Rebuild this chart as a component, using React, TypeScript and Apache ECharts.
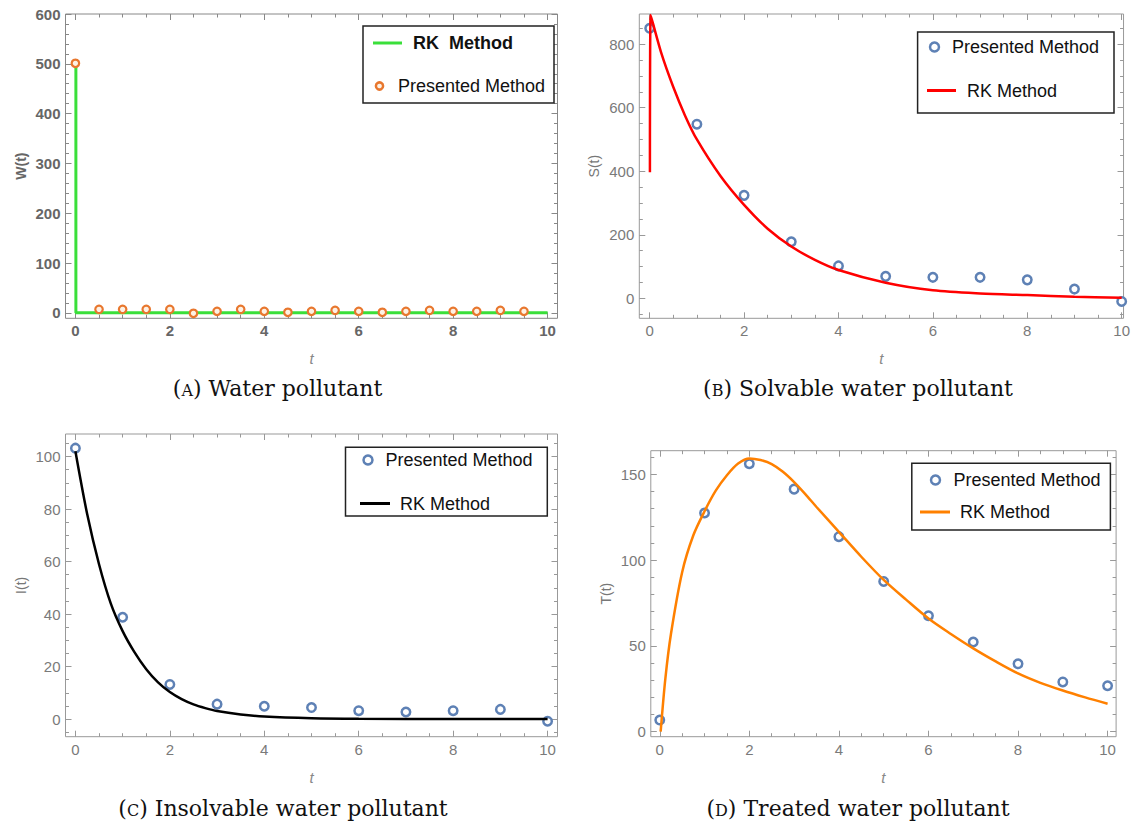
import React, { useEffect, useRef } from "react";
import * as echarts from "echarts";

// ---------------- data ----------------
// (A) Water pollutant W(t)
const tPresentedA = [0, 0.5, 1, 1.5, 2, 2.5, 3, 3.5, 4, 4.5, 5, 5.5, 6, 6.5, 7, 7.5, 8, 8.5, 9, 9.5];
const wPresented = [501, 7, 7, 7, 7, -1, 3, 7, 3, 1, 3, 5, 3, 1, 3, 5, 3, 3, 5, 3];
const tRkA = [0.01, 0.01, 10];
const wRk = [500, 0, 0];

// integer time points used by panels B, C, D
const tPresented = [0, 1, 2, 3, 4, 5, 6, 7, 8, 9, 10];

// (B) Solvable water pollutant S(t)
const sPresented = [850, 548, 324, 178, 102, 69, 66, 66, 58, 29, -10];
const tRkS = [0.005, 0.02, 0.25, 0.5, 0.75, 1, 1.5, 2, 2.5, 3, 3.5, 4, 5, 6, 7, 8, 9, 10];
const sRk = [397, 892, 770, 665, 575, 500, 385, 294, 219, 163, 121, 89, 49, 25, 15, 10, 5, 2];

// (C) Insolvable water pollutant I(t)
const iPresented = [103.2, 38.8, 13.2, 5.7, 4.9, 4.4, 3.2, 2.7, 3.2, 3.7, -0.8];
const tRkI = [0, 0.25, 0.5, 0.75, 1, 1.25, 1.5, 1.75, 2, 2.25, 2.5, 2.75, 3, 3.5, 4, 5, 6, 8, 10];
const iRk = [102, 78, 59, 44, 33.5, 25.5, 19, 14, 10.3, 7.6, 5.6, 4.2, 3.1, 1.8, 1.0, 0.35, 0.12, 0.02, 0];

// (D) Treated water pollutant T(t)
const trPresented = [6.8, 127.5, 156.2, 141.4, 113.7, 87.6, 67.6, 52.3, 39.6, 29, 26.8];
const tRkT = [0.02, 0.125, 0.25, 0.5, 0.75, 1, 1.25, 1.5, 1.75, 2, 2.25, 2.5, 2.75, 3, 3.25, 3.5, 4, 4.5, 5, 5.5, 6, 6.5, 7, 7.5, 8, 8.5, 9, 9.5, 10];
const trRk = [0, 31, 57, 93, 114.5, 128.5, 140.5, 149.5, 156.3, 159.3, 158.4, 156, 151.5, 145.5, 138.5, 131, 116.5, 102, 88.5, 77, 66, 57, 48.6, 41, 34, 28.5, 24, 20, 16.3];

// tick labels
const xMajor = [0, 2, 4, 6, 8, 10];
const xMinor = [0.5, 1, 1.5, 2.5, 3, 3.5, 4.5, 5, 5.5, 6.5, 7, 7.5, 8.5, 9, 9.5];
const yMajorA = [0, 100, 200, 300, 400, 500, 600];
const yMajorB = [0, 200, 400, 600, 800];
const yMajorC = [0, 20, 40, 60, 80, 100];
const yMajorD = [0, 50, 100, 150];

const seriesNames = ["RK Method", "Presented Method"];
const captions = [
  ["A", "Water pollutant"],
  ["B", "Solvable water pollutant"],
  ["C", "Insolvable water pollutant"],
  ["D", "Treated water pollutant"],
];
const yNames = ["W(t)", "S(t)", "I(t)", "T(t)"];

// ---------------- helpers ----------------
const SANS = "'Liberation Sans', Arial, Helvetica, sans-serif";
const SERIF = "'DejaVu Serif', 'Liberation Serif', serif";
const BLUE = "#5E81B5";

const zip = (xs: number[], ys: number[]) => xs.map((x, i) => [x, ys[i]]);

function minorsBetween(from: number, to: number, step: number, majorStep: number): number[] {
  const out: number[] = [];
  for (let v = from; v <= to + 1e-9; v += step) {
    const r = Math.round(v * 1000) / 1000;
    if (Math.abs(r / majorStep - Math.round(r / majorStep)) > 1e-6) out.push(r);
  }
  return out;
}

type Style = { frame: string; label: string; bold: boolean; yName: string };

function axesFor(
  g: number,
  isX: boolean,
  min: number,
  max: number,
  major: number[],
  minor: number[],
  st: Style
) {
  const base = {
    type: "value",
    gridIndex: g,
    min,
    max,
    axisLine: { show: false, onZero: false },
    splitLine: { show: false },
  };
  const tick = (vals: number[], len: number) => ({
    show: true,
    inside: true,
    length: len,
    customValues: vals,
    lineStyle: { color: st.frame, width: 1 },
  });
  const main = isX ? "bottom" : "left";
  const opp = isX ? "top" : "right";
  return [
    {
      ...base,
      position: main,
      axisTick: tick(major, 6),
      axisLabel: {
        show: true,
        customValues: major,
        margin: 5,
        color: st.label,
        fontSize: 15,
        fontFamily: SANS,
        fontWeight: st.bold ? "bold" : "normal",
      },
      name: isX ? "t" : st.yName,
      nameLocation: "middle",
      nameGap: isX ? 33 : 38,
      nameTextStyle: isX
        ? { fontStyle: "italic", fontSize: 15, color: "#888", fontFamily: SANS }
        : { fontSize: 14, color: st.bold ? "#666" : "#777", fontFamily: SANS, fontWeight: st.bold ? "bold" : "normal" },
    },
    { ...base, position: main, axisTick: tick(minor, 3.5), axisLabel: { show: false } },
    { ...base, position: opp, axisTick: tick(major, 6), axisLabel: { show: false } },
    { ...base, position: opp, axisTick: tick(minor, 3.5), axisLabel: { show: false } },
  ];
}

function legendBox(
  box: [number, number, number, number],
  items: { kind: "line" | "circle"; color: string; fill?: string; r?: number; x1: number; x2?: number; y: number; tx: number; text: string; bold?: boolean }[]
) {
  const children: any[] = [
    {
      type: "rect",
      shape: { x: box[0], y: box[1], width: box[2] - box[0], height: box[3] - box[1] },
      style: { fill: "#fff", stroke: "#222", lineWidth: 1.5 },
      z: 100,
    },
  ];
  items.forEach((it) => {
    if (it.kind === "line") {
      children.push({
        type: "line",
        shape: { x1: it.x1, y1: it.y, x2: it.x2, y2: it.y },
        style: { stroke: it.color, lineWidth: 3 },
        z: 101,
      });
    } else {
      children.push({
        type: "circle",
        shape: { cx: it.x1, cy: it.y, r: it.r ?? 4.5 },
        style: { fill: it.fill ?? "#fff", stroke: it.color, lineWidth: 2.5 },
        z: 101,
      });
    }
    children.push({
      type: "text",
      x: it.tx,
      y: it.y,
      style: {
        text: it.text,
        fill: "#111",
        fontSize: 18,
        fontFamily: SANS,
        fontWeight: it.bold ? "bold" : "normal",
        align: "left",
        verticalAlign: "middle",
      },
      z: 101,
    });
  });
  return children;
}

function caption(cx: number, cy: number, letter: string, text: string) {
  return {
    type: "text",
    x: cx,
    y: cy,
    z: 100,
    style: {
      text: `{n|(}{s|${letter}}{n|) ${text}}`,
      align: "center",
      verticalAlign: "middle",
      fill: "#111",
      rich: {
        n: { fontSize: 22, fontFamily: SERIF, fill: "#111", color: "#111", verticalAlign: "bottom" },
        s: { fontSize: 16, fontFamily: SERIF, fill: "#111", color: "#111", verticalAlign: "bottom", padding: [0, 0, 1, 0] },
      },
    },
  };
}

export default function App() {
  const ref = useRef<HTMLDivElement>(null);

  useEffect(() => {
    if (!ref.current) return;
    const chart = echarts.init(ref.current, undefined, { renderer: "svg" });

    const stA: Style = { frame: "#888", label: "#666", bold: true, yName: yNames[0] };
    const stB: Style = { frame: "#999", label: "#7a7a7a", bold: false, yName: yNames[1] };
    const stC: Style = { frame: "#999", label: "#7a7a7a", bold: false, yName: yNames[2] };
    const stD: Style = { frame: "#999", label: "#7a7a7a", bold: false, yName: yNames[3] };

    const grids = [
      { left: 65.5, top: 14, width: 492, height: 304.3, show: true, borderColor: "#888", borderWidth: 1 },
      { left: 639.3, top: 14, width: 485.7, height: 304.3, show: true, borderColor: "#999", borderWidth: 1 },
      { left: 65.5, top: 434, width: 492, height: 302.7, show: true, borderColor: "#999", borderWidth: 1 },
      { left: 650.8, top: 450.7, width: 465.3, height: 286, show: true, borderColor: "#999", borderWidth: 1 },
    ].map((g) => ({ ...g, containLabel: false, backgroundColor: "transparent" }));

    const xAxis = [
      ...axesFor(0, true, -0.21, 10.21, xMajor, xMinor, stA),
      ...axesFor(1, true, -0.22, 10.04, xMajor, xMinor, stB),
      ...axesFor(2, true, -0.21, 10.21, xMajor, xMinor, stC),
      ...axesFor(3, true, -0.2, 10.19, xMajor, xMinor, stD),
    ];
    const yAxis = [
      ...axesFor(0, false, -11, 600, yMajorA, minorsBetween(20, 580, 20, 100), stA),
      ...axesFor(1, false, -63, 895, yMajorB, minorsBetween(-50, 850, 50, 200), stB),
      ...axesFor(2, false, -6.7, 108.6, yMajorC, minorsBetween(-5, 105, 5, 20), stC),
      ...axesFor(3, false, -2.9, 163.8, yMajorD, minorsBetween(10, 160, 10, 50), stD),
    ];

    const ring = (color: string, fill = "#fff", size = 8.5, bw = 2.5) => ({
      symbol: "circle",
      symbolSize: size,
      itemStyle: { color: fill, borderColor: color, borderWidth: bw, opacity: 1 },
    });

    const series: any[] = [
      {
        type: "line",
        name: seriesNames[0],
        xAxisIndex: 0,
        yAxisIndex: 0,
        data: zip(tRkA, wRk),
        symbol: "none",
        lineStyle: { color: "#3ADF3A", width: 3 },
        z: 2,
      },
      {
        type: "scatter",
        name: seriesNames[1],
        xAxisIndex: 0,
        yAxisIndex: 0,
        data: zip(tPresentedA, wPresented),
        ...ring("#E8772E", "#FDF1E4", 7.5, 2.2),
        z: 3,
      },
      {
        type: "scatter",
        name: seriesNames[1],
        xAxisIndex: 4,
        yAxisIndex: 4,
        data: zip(tPresented, sPresented),
        ...ring(BLUE),
        z: 2,
      },
      {
        type: "line",
        name: seriesNames[0],
        xAxisIndex: 4,
        yAxisIndex: 4,
        data: zip(tRkS, sRk),
        symbol: "none",
        smooth: 0.3,
        lineStyle: { color: "#FF0000", width: 2.5 },
        z: 3,
      },
      {
        type: "scatter",
        name: seriesNames[1],
        xAxisIndex: 8,
        yAxisIndex: 8,
        data: zip(tPresented, iPresented),
        ...ring(BLUE),
        z: 2,
      },
      {
        type: "line",
        name: seriesNames[0],
        xAxisIndex: 8,
        yAxisIndex: 8,
        data: zip(tRkI, iRk),
        symbol: "none",
        smooth: 0.3,
        lineStyle: { color: "#000", width: 2.5 },
        z: 3,
      },
      {
        type: "scatter",
        name: seriesNames[1],
        xAxisIndex: 12,
        yAxisIndex: 12,
        data: zip(tPresented, trPresented),
        ...ring(BLUE),
        z: 2,
      },
      {
        type: "line",
        name: seriesNames[0],
        xAxisIndex: 12,
        yAxisIndex: 12,
        data: zip(tRkT, trRk),
        symbol: "none",
        smooth: 0.3,
        lineStyle: { color: "#FF8000", width: 2.5 },
        z: 3,
      },
    ];

    const graphic = [
      ...legendBox([363, 26, 554, 103], [
        { kind: "line", color: "#3ADF3A", x1: 373, x2: 402, y: 43, tx: 413, text: "RK  Method", bold: true },
        { kind: "circle", color: "#E8772E", fill: "#FDF1E4", r: 3.6, x1: 379.5, y: 86, tx: 398, text: "Presented Method" },
      ]),
      ...legendBox([917.6, 32, 1114, 113], [
        { kind: "circle", color: BLUE, x1: 934.5, y: 47, tx: 952, text: "Presented Method" },
        { kind: "line", color: "#FF0000", x1: 927, x2: 956, y: 90.5, tx: 967, text: "RK Method" },
      ]),
      ...legendBox([345.5, 447.3, 547.3, 516], [
        { kind: "circle", color: BLUE, x1: 368, y: 460, tx: 385.5, text: "Presented Method" },
        { kind: "line", color: "#000", x1: 360, x2: 390, y: 503.5, tx: 400, text: "RK Method" },
      ]),
      ...legendBox([911.8, 463.3, 1110.4, 530], [
        { kind: "circle", color: BLUE, x1: 935.5, y: 480, tx: 953.5, text: "Presented Method" },
        { kind: "line", color: "#FF8000", x1: 920, x2: 950, y: 512, tx: 960, text: "RK Method" },
      ]),
      caption(277.5, 388, captions[0][0], captions[0][1]),
      caption(858, 388, captions[1][0], captions[1][1]),
      caption(283, 808, captions[2][0], captions[2][1]),
      caption(858, 808, captions[3][0], captions[3][1]),
    ];

    chart.setOption({
      animation: false,
      backgroundColor: "#fff",
      grid: grids,
      xAxis,
      yAxis,
      series,
      graphic,
    });

    return () => chart.dispose();
  }, []);

  return (
    <div
      ref={ref}
      style={{ position: "absolute", left: 0, top: 0, width: 1133, height: 824, background: "#fff" }}
    />
  );
}
